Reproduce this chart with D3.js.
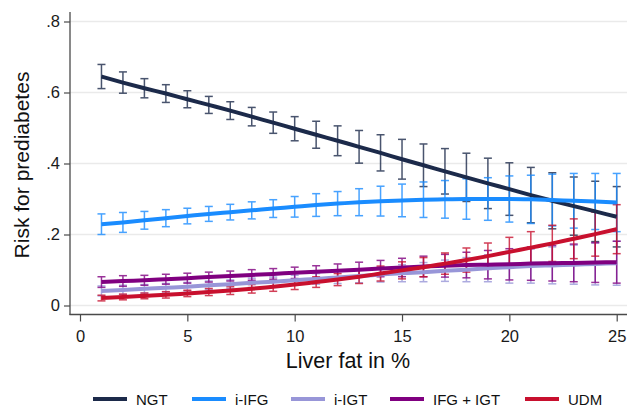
<!DOCTYPE html>
<html lang="en">
<head>
<meta charset="UTF-8">
<title>Risk for prediabetes by liver fat</title>
<script src="https://d3js.org/d3.v7.min.js"></script>
<style>
  body { margin: 0; background: #fff; }
  svg { display: block; font-family: "Liberation Sans", Arial, sans-serif; }
</style>
</head>
<body>
<div id="chart"></div>
<script>
// liver fat values (x)
var liverFat = d3.range(1, 26);

// predicted risk per group
var ngt    = [.645,.628,.612,.597,.581,.565,.549,.532,.515,.498,.481,.464,.447,.430,.412,.395,.378,.361,.344,.328,.311,.295,.280,.265,.250];
var ngtCI  = [.034,.030,.027,.025,.024,.024,.025,.026,.030,.034,.038,.042,.046,.051,.056,.060,.064,.068,.071,.074,.078,.079,.082,.085,.085];
var iifg   = [.229,.234,.240,.246,.252,.258,.263,.268,.273,.278,.283,.287,.291,.294,.296,.298,.299,.300,.300,.300,.299,.297,.295,.293,.290];
var iifgCI = [.029,.028,.025,.024,.022,.021,.022,.024,.025,.029,.032,.034,.038,.042,.046,.050,.053,.057,.060,.065,.068,.073,.077,.079,.082];
var iigt   = [.041,.044,.047,.050,.053,.057,.060,.064,.067,.071,.075,.079,.083,.087,.091,.094,.098,.101,.105,.108,.111,.113,.115,.117,.119];
var iigtCI = [.014,.013,.012,.012,.012,.012,.012,.013,.013,.014,.015,.017,.019,.021,.024,.027,.030,.034,.038,.045,.048,.052,.055,.059,.062];
var ifgigt   = [.066,.069,.071,.074,.077,.080,.083,.086,.089,.092,.095,.098,.101,.104,.107,.110,.112,.114,.115,.116,.118,.119,.120,.121,.122];
var ifgigtCI = [.015,.015,.014,.014,.014,.014,.014,.015,.015,.016,.017,.019,.021,.023,.026,.029,.032,.036,.040,.044,.047,.050,.053,.056,.059];
var udm   = [.021,.024,.027,.030,.034,.038,.042,.047,.053,.059,.066,.073,.081,.090,.099,.108,.118,.128,.139,.151,.163,.175,.188,.201,.215];
var udmCI = [.008,.008,.008,.009,.009,.010,.011,.012,.013,.014,.015,.017,.019,.021,.024,.027,.030,.034,.037,.041,.045,.051,.056,.062,.069];

var groups = ["NGT", "i-IFG", "i-IGT", "IFG + IGT", "UDM"];
var colors = ["#1c2a4a", "#1a8cff", "#9896d8", "#800080", "#c8102e"];
var seriesValues = [ngt, iifg, iigt, ifgigt, udm];
var seriesCI = [ngtCI, iifgCI, iigtCI, ifgigtCI, udmCI];

var yTicks = [0, .2, .4, .6, .8];
var xTicks = [0, 5, 10, 15, 20, 25];

var W = 627, H = 407;
var svg = d3.select("#chart").append("svg")
  .attr("width", W).attr("height", H);

var x = d3.scaleLinear().domain([0, 25]).range([80, 616.7]);
var y = d3.scaleLinear().domain([0, .8]).range([305.5, 21.5]);

// gridlines
svg.append("g").selectAll("line")
  .data(yTicks).enter().append("line")
  .attr("x1", 70).attr("x2", W)
  .attr("y1", function(d) { return y(d); })
  .attr("y2", function(d) { return y(d); })
  .attr("stroke", "#eaeaea").attr("stroke-width", 1.5);

// axes
var fmt = function(d) { return d === 0 ? "0" : d3.format(".1f")(d).replace(/^0/, ""); };

var yAxis = svg.append("g")
  .attr("transform", "translate(70,0)")
  .call(d3.axisLeft(y).tickValues(yTicks).tickFormat(fmt).tickSize(6).tickPadding(4));
var xAxis = svg.append("g")
  .attr("transform", "translate(0,314.5)")
  .call(d3.axisBottom(x).tickValues(xTicks).tickSize(7).tickPadding(8.5));

[yAxis, xAxis].forEach(function(a) {
  a.select(".domain").remove();
  a.selectAll(".tick line").attr("stroke", "#4a4a4a").attr("stroke-width", 1.2);
  a.selectAll(".tick text").attr("fill", "#1a1a1a").style("font-size", "16.5px");
});

svg.append("line").attr("x1", 70).attr("x2", 70).attr("y1", 12).attr("y2", 315)
  .attr("stroke", "#4a4a4a").attr("stroke-width", 1.3);
svg.append("line").attr("x1", 69.5).attr("x2", W).attr("y1", 314.5).attr("y2", 314.5)
  .attr("stroke", "#4a4a4a").attr("stroke-width", 1.3);

// axis titles
svg.append("text")
  .attr("x", 348).attr("y", 367.5)
  .attr("text-anchor", "middle")
  .style("font-size", "21.5px").attr("fill", "#111")
  .text("Liver fat in %");
svg.append("text")
  .attr("transform", "translate(29,165)rotate(-90)")
  .attr("text-anchor", "middle")
  .style("font-size", "21px").attr("fill", "#111")
  .text("Risk for prediabetes");

// error bars
var plot = svg.append("g");
groups.forEach(function(g, i) {
  var vals = seriesValues[i], ci = seriesCI[i];
  var eb = plot.append("g")
    .attr("stroke", colors[i]).attr("stroke-width", 1.5).attr("opacity", 0.8);
  liverFat.forEach(function(lf, j) {
    var lo = y(vals[j] - ci[j]), hi = y(vals[j] + ci[j]), cx = x(lf);
    eb.append("line").attr("x1", cx).attr("x2", cx).attr("y1", lo).attr("y2", hi);
    eb.append("line").attr("x1", cx - 4).attr("x2", cx + 4).attr("y1", lo).attr("y2", lo);
    eb.append("line").attr("x1", cx - 4).attr("x2", cx + 4).attr("y1", hi).attr("y2", hi);
  });
});

// fitted lines
var line = d3.line()
  .x(function(d, j) { return x(liverFat[j]); })
  .y(function(d) { return y(d); })
  .curve(d3.curveMonotoneX);
groups.forEach(function(g, i) {
  plot.append("path")
    .datum(seriesValues[i])
    .attr("d", line)
    .attr("fill", "none")
    .attr("stroke", colors[i])
    .attr("stroke-width", 4);
});

// legend
var legendX = [93, 192, 291, 390, 525];
var legend = svg.append("g");
groups.forEach(function(g, i) {
  legend.append("line")
    .attr("x1", legendX[i]).attr("x2", legendX[i] + 34)
    .attr("y1", 399).attr("y2", 399)
    .attr("stroke", colors[i]).attr("stroke-width", 4);
  legend.append("text")
    .attr("x", legendX[i] + 43).attr("y", 404.5)
    .style("font-size", "15px").attr("fill", "#111")
    .text(g);
});
</script>
</body>
</html>
